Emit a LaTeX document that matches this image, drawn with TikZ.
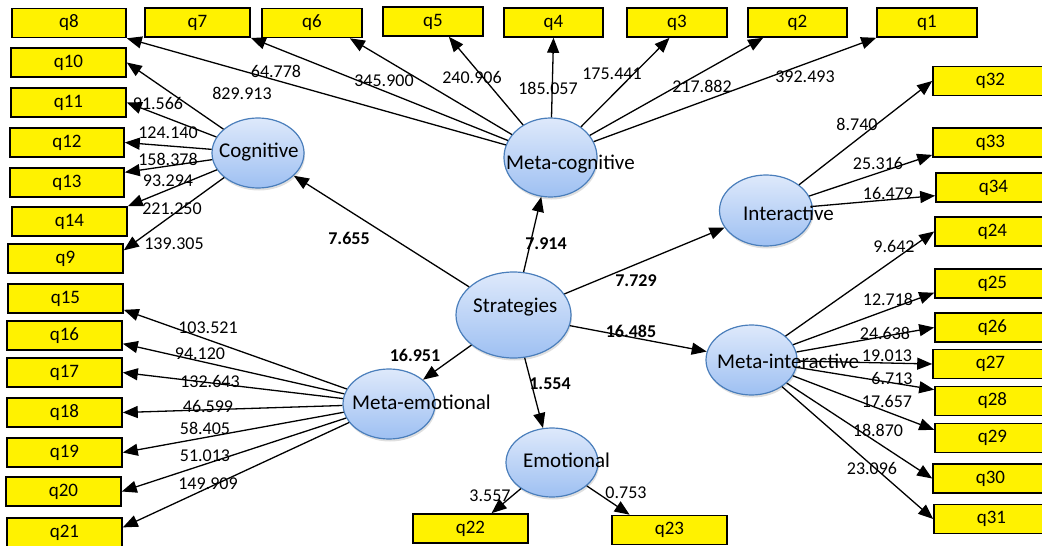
\documentclass[tikz,border=0pt]{standalone}
\usepackage{fontspec}
\setmainfont{Carlito}
\usetikzlibrary{arrows.meta,shapes.geometric,shadows}
\definecolor{lvtop}{RGB}{222,233,251}
\definecolor{lvbot}{RGB}{158,192,242}
\definecolor{lvedge}{RGB}{74,126,187}

\begin{document}
\begin{tikzpicture}[x=1pt,y=-1pt,
    latent/.style={ellipse,draw=lvedge,line width=1.2pt,top color=lvtop,bottom color=lvbot,
      drop shadow={opacity=0.25,shadow xshift=1pt,shadow yshift=-2.5pt},inner sep=0pt},
    lvtext/.style={anchor=west,inner sep=0pt,font=\fontsize{21}{24}\selectfont},
    item/.style={draw,line width=1.6pt,fill=yellow,minimum height=29pt,minimum width=115pt,
      inner sep=0pt,font=\fontsize{19}{22}\selectfont},
    load/.style={line width=1.3pt,-{Triangle[length=15pt,width=12pt]}},
    coef/.style={inner sep=0pt,font=\fontsize{18}{20}\selectfont},
    bcoef/.style={inner sep=0pt,font=\fontsize{18}{20}\selectfont\bfseries}]
  \useasboundingbox (0,0) rectangle (1042,546);

  % indicators
  \node[item,minimum width=114pt] (q8) at (69,23) {q8};
  \node[item,minimum width=105pt] (q7) at (197.5,22.5) {q7};
  \node[item,minimum width=100pt] (q6) at (312,23) {q6};
  \node[item,minimum width=100pt] (q5) at (433,21.5) {q5};
  \node[item,minimum width=99pt] (q4) at (553.5,22.5) {q4};
  \node[item,minimum width=100pt] (q3) at (677,22.5) {q3};
  \node[item,minimum width=99pt] (q2) at (797.5,22.5) {q2};
  \node[item,minimum width=100pt] (q1) at (927,22.5) {q1};

  \node[item] (q10) at (68.5,62.5) {q10};
  \node[item] (q11) at (68.5,102.5) {q11};
  \node[item,minimum width=114pt] (q12) at (67,142.5) {q12};
  \node[item,minimum width=114pt] (q13) at (67,182.5) {q13};
  \node[item] (q14) at (69.5,221.5) {q14};
  \node[item] (q9) at (65.5,258.5) {q9};
  \node[item] (q15) at (65.5,298.5) {q15};
  \node[item] (q16) at (64.5,335.5) {q16};
  \node[item] (q17) at (64.5,372.5) {q17};
  \node[item] (q18) at (64.5,412.5) {q18};
  \node[item] (q19) at (64.5,452.5) {q19};
  \node[item] (q20) at (63.5,491.5) {q20};
  \node[item] (q21) at (64.5,532.5) {q21};

  \node[item] (q22) at (470.5,528.5) {q22};
  \node[item] (q23) at (669.5,530) {q23};

  \node[item] (q32) at (990.5,81) {q32};
  \node[item] (q33) at (990.5,142.5) {q33};
  \node[item] (q34) at (993.5,187.5) {q34};
  \node[item] (q24) at (992.5,231.5) {q24};
  \node[item] (q25) at (992.5,283.5) {q25};
  \node[item] (q26) at (992.5,327.5) {q26};
  \node[item] (q27) at (990.5,364) {q27};
  \node[item] (q28) at (992.5,401) {q28};
  \node[item] (q29) at (992.5,438) {q29};
  \node[item] (q30) at (990.5,478.5) {q30};
  \node[item] (q31) at (991.5,519) {q31};

  % constructs
  \node[latent,minimum width=115pt,minimum height=86pt] (strat) at (513.5,315) {};
  \node[latent,minimum width=92pt,minimum height=70pt] (cog) at (258,153) {};
  \node[latent,minimum width=93pt,minimum height=79pt] (mcog) at (550.5,157.5) {};
  \node[latent,minimum width=93pt,minimum height=71pt] (inter) at (766,210.5) {};
  \node[latent,minimum width=91pt,minimum height=70pt] (minter) at (751.5,360) {};
  \node[latent,minimum width=92pt,minimum height=70pt] (memo) at (389,404) {};
  \node[latent,minimum width=92pt,minimum height=69pt] (emo) at (552,462.5) {};

  % structural paths
  \draw[load] (strat) -- (cog);
  \draw[load] (strat) -- (mcog);
  \draw[load] (strat) -- (inter);
  \draw[load] (strat) -- (minter);
  \draw[load] (strat) -- (memo);
  \draw[load] (strat) -- (emo);

  % loadings
  \draw[load] (mcog) -- (q8.south east);
  \draw[load] (mcog) -- (q7.south east);
  \draw[load] (mcog) -- (q6.-22);
  \draw[load] (mcog) -- (q5.-44);
  \draw[load] (mcog) -- (q4.south);
  \draw[load] (mcog) -- (q3.-116);
  \draw[load] (mcog) -- (q2.-156);
  \draw[load] (mcog) -- (q1.south west);

  \draw[load] (cog) -- (q10.east);
  \draw[load] (cog) -- (q11.east);
  \draw[load] (cog) -- (q12.east);
  \draw[load] (cog) -- (q13.10);
  \draw[load] (cog) -- (q14.north east);
  \draw[load] (cog) -- (q9.8);

  \draw[load] (inter) -- (q32.west);
  \draw[load] (inter) -- (q33.-168);
  \draw[load] (inter) -- (q34.-172);

  \draw[load] (minter) -- (q24.west);
  \draw[load] (minter) -- (q25.-171);
  \draw[load] (minter) -- (q26.west);
  \draw[load] (minter) -- (q27.west);
  \draw[load] (minter) -- (q28.169);
  \draw[load] (minter) -- (q29.172);
  \draw[load] (minter) -- (q30.west);
  \draw[load] (minter) -- (q31.west);

  \draw[load] (memo) -- (q15.-11);
  \draw[load] (memo) -- (q16.-8);
  \draw[load] (memo) -- (q17.east);
  \draw[load] (memo) -- (q18.east);
  \draw[load] (memo) -- (q19.east);
  \draw[load] (memo) -- (q20.east);
  \draw[load] (memo) -- (q21.5);

  \draw[load] (emo) -- (q22.36);
  \draw[load] (emo) -- (q23.159);

  % construct names
  \node[lvtext] (stratname) at (473,307) {Strategies};
  \node[lvtext] (cogname) at (219,152) {Cognitive};
  \node[lvtext] (mcogname) at (506,164) {Meta-cognitive};
  \node[lvtext] (intername) at (743,213) {Interactive};
  \node[lvtext] (mintername) at (717,361) {Meta-interactive};
  \node[lvtext] (memoname) at (352,402) {Meta-emotional};
  \node[lvtext] (emoname) at (523,460) {Emotional};

  % coefficients
  \node[bcoef] (c1) at (349,238) {7.655};
  \node[bcoef] (c2) at (546,244) {7.914};
  \node[bcoef] (c3) at (636,281) {7.729};
  \node[bcoef] (c4) at (631,331) {16.485};
  \node[bcoef] (c5) at (415,355) {16.951};
  \node[bcoef] (c6) at (550,384) {1.554};

  \node[coef] (w8) at (242,93) {829.913};
  \node[coef] (w7) at (276,71) {64.778};
  \node[coef] (w6) at (384,81) {345.900};
  \node[coef] (w5) at (472,77) {240.906};
  \node[coef] (w4) at (548,88) {185.057};
  \node[coef] (w3) at (612,74) {175.441};
  \node[coef] (w2) at (702,86) {217.882};
  \node[coef] (w1) at (805,77) {392.493};

  \node[coef] (w10) at (158,103) {91.566};
  \node[coef] (w11) at (168,133) {124.140};
  \node[coef] (w12) at (168,159) {158.378};
  \node[coef] (w13) at (168,181) {93.294};
  \node[coef] (w14) at (172,209) {221.250};
  \node[coef] (w9) at (174,244) {139.305};

  \node[coef] (w32) at (857,124) {8.740};
  \node[coef] (w33) at (878,163) {25.316};
  \node[coef] (w34) at (888,193) {16.479};

  \node[coef] (w24) at (894,246) {9.642};
  \node[coef] (w25) at (888,299) {12.718};
  \node[coef] (w26) at (885,333) {24.638};
  \node[coef] (w27) at (887,356) {19.013};
  \node[coef] (w28) at (892,378) {6.713};
  \node[coef] (w29) at (887,401) {17.657};
  \node[coef] (w30) at (878,430) {18.870};
  \node[coef] (w31) at (872,468) {23.096};

  \node[coef] (w15) at (208,328) {103.521};
  \node[coef] (w16) at (200,354) {94.120};
  \node[coef] (w17) at (210,381) {132.643};
  \node[coef] (w18) at (208,406) {46.599};
  \node[coef] (w19) at (205,428) {58.405};
  \node[coef] (w20) at (205,456) {51.013};
  \node[coef] (w21) at (208,484) {149.909};

  \node[coef] (w22) at (490,496) {3.557};
  \node[coef] (w23) at (626,493) {0.753};
\end{tikzpicture}
\end{document}
